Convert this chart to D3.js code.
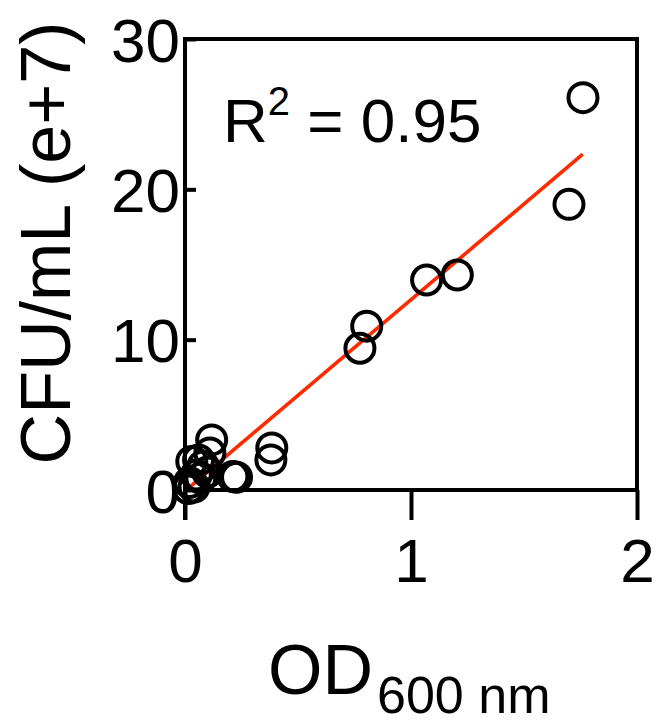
<!DOCTYPE html>
<html><head><meta charset="utf-8">
<script src="https://cdn.jsdelivr.net/npm/d3@7"></script>
<style>body{margin:0;background:#fff}svg{display:block}text{font-family:"Liberation Sans",Arial,Helvetica,sans-serif;fill:#000}</style>
</head><body><svg id="c" width="656" height="726"></svg>
<script>
// Data (OD600, CFU/mL in e+7)
const od  = [1.761, 1.699, 1.069, 1.205, 0.804, 0.774, 0.384, 0.380, 0.212, 0.228, 0.118, 0.110,
             0.060, 0.030, 0.080, 0.050, 0.020, 0.040, 0.100, 0.070, 0.015];
const cfu = [26.1, 19.0, 13.97, 14.3, 10.9, 9.43, 2.8, 2.0, 0.9, 0.85, 3.33, 2.46,
             2.0, 1.9, 1.6, 1.0, 0.5, 0.2, 1.2, 0.8, 0.1];
const fitSlope = 12.73, fitIntercept = -0.07;
const fitRange = [0.013, 1.76];
const xTicks = [0, 1, 2];
const yTicks = [0, 10, 20, 30];
const r2Label = "0.95";

const svg = d3.select("#c");
const x = d3.scaleLinear().domain([0, 2]).range([185, 637]);
const y = d3.scaleLinear().domain([0, 30]).range([490, 39]);
const sw = 4;

// frame: top and right borders
svg.append("path").attr("d", `M${x(0)},${y(30)}H${x(2)}V${y(0)}`)
  .attr("fill","none").attr("stroke","#000").attr("stroke-width",sw).attr("stroke-linecap","square");

// x axis
const xa = svg.append("g").attr("transform", `translate(0,${y(0)})`)
  .call(d3.axisBottom(x).tickValues(xTicks).tickSize(30).tickFormat(d3.format("d")));
xa.select(".domain").attr("stroke-width", sw).attr("d", `M${x(0)},0H${x(2)}`);
xa.selectAll(".tick line").attr("stroke-width", sw);
xa.selectAll(".tick text").attr("font-size", 62).attr("y", 92).attr("dy", 0)
  .style("font-family", '"Liberation Sans",Arial,sans-serif');

// y axis (inward ticks)
const ya = svg.append("g").attr("transform", `translate(${x(0)},0)`)
  .call(d3.axisRight(y).tickValues(yTicks).tickSize(11).tickFormat(d3.format("d")));
ya.select(".domain").attr("stroke-width", sw).attr("d", `M0,${y(30)}V${y(0)+30}`);
ya.selectAll(".tick line").attr("stroke-width", sw);
ya.selectAll(".tick text").attr("font-size", 62).attr("x", -5).attr("dy", "0.36em")
  .attr("text-anchor", "end").style("font-family", '"Liberation Sans",Arial,sans-serif');

svg.selectAll(".domain, .tick line").attr("stroke", "#000");

// regression line
svg.append("line")
  .attr("x1", x(fitRange[0])).attr("y1", y(fitSlope*fitRange[0]+fitIntercept))
  .attr("x2", x(fitRange[1])).attr("y2", y(fitSlope*fitRange[1]+fitIntercept))
  .attr("stroke", "#ff2a00").attr("stroke-width", 3.6);

// points
svg.append("g").selectAll("circle").data(od.map((d,i)=>[d,cfu[i]])).join("circle")
  .attr("cx", d=>x(d[0])).attr("cy", d=>y(d[1])).attr("r", 14.5)
  .attr("fill","none").attr("stroke","#000").attr("stroke-width", 4);

// R^2 annotation
const rt = svg.append("text").attr("x", 223).attr("y", 142).attr("font-size", 62);
rt.append("tspan").text("R");
rt.append("tspan").attr("font-size", 40).attr("dy", -27).text("2");
rt.append("tspan").attr("dy", 27).text(" = " + r2Label);

// axis titles
const xt = svg.append("text").attr("x", 268).attr("y", 694).attr("font-size", 70);
xt.append("tspan").text("OD");
xt.append("tspan").attr("font-size", 52).attr("dy", 19).attr("dx", 4).text("600 nm");

svg.append("text").attr("transform", "translate(70,243) rotate(-90)")
  .attr("text-anchor", "middle").attr("font-size", 70).text("CFU/mL (e+7)");
</script></body></html>
